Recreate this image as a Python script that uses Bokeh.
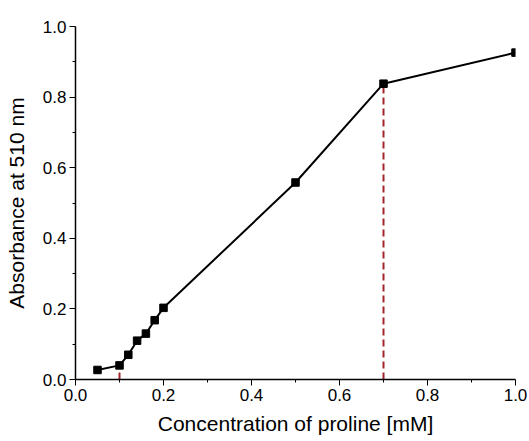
from bokeh.plotting import figure
from bokeh.embed import file_html
from bokeh.resources import INLINE
from bokeh.models import Range1d, FixedTicker, NumeralTickFormatter

conc = [0.05, 0.10, 0.12, 0.14, 0.16, 0.18, 0.20, 0.50, 0.70, 1.00]
absorb = [0.027, 0.040, 0.070, 0.110, 0.130, 0.168, 0.203, 0.558, 0.838, 0.926]
marker_x = [0.10, 0.70]
marker_y = [0.040, 0.838]
ticks = [0.0, 0.2, 0.4, 0.6, 0.8, 1.0]
minor = [0.1, 0.3, 0.5, 0.7, 0.9]

FONT = "Liberation Sans"
RED = "#a3262b"

p = figure(width=529, height=441, output_backend="svg", toolbar_location=None,
           x_range=Range1d(0, 1), y_range=Range1d(0, 1),
           min_border_left=75, min_border_right=14, min_border_top=26, min_border_bottom=62)
p.outline_line_color = None
p.grid.visible = False
p.background_fill_color = "white"
p.border_fill_color = "white"

for ax in (p.xaxis[0], p.yaxis[0]):
    ax.ticker = FixedTicker(ticks=ticks, minor_ticks=minor)
    ax.formatter = NumeralTickFormatter(format="0.0")
    ax.major_label_text_font = FONT
    ax.major_label_text_font_size = "17px"
    ax.major_label_text_color = "black"
    ax.axis_label_text_font = FONT
    ax.axis_label_text_font_size = "21px"
    ax.axis_label_text_font_style = "normal"
    ax.axis_label_text_color = "black"
    ax.axis_line_color = "black"
    ax.axis_line_width = 1.5
    ax.major_tick_line_color = "black"
    ax.minor_tick_line_color = "black"
    ax.major_tick_out = 6
    ax.major_tick_in = 0
    ax.minor_tick_out = 3
    ax.minor_tick_in = 0
    ax.major_label_standoff = 3

p.xaxis[0].axis_label = "Concentration of proline [mM]"
p.yaxis[0].axis_label = "Absorbance at 510 nm"
p.xaxis[0].axis_label_standoff = 8
p.yaxis[0].axis_label_standoff = 12

p.segment(x0=marker_x, y0=[0, 0], x1=marker_x, y1=marker_y,
          line_color=RED, line_width=2, line_dash="7 4")
p.line(conc, absorb, line_color="black", line_width=2)
p.scatter(conc, absorb, marker="square", size=7.5, fill_color="black", line_color="black")

open("out.html", "w").write(file_html(p, INLINE))
